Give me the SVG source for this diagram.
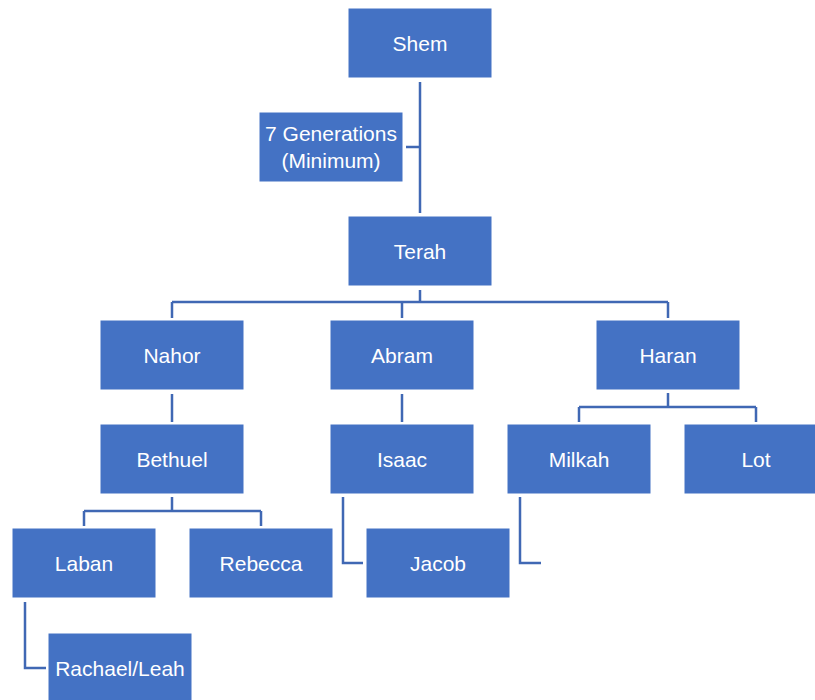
<svg xmlns="http://www.w3.org/2000/svg" width="815" height="700" viewBox="0 0 815 700">
<style>
.box{fill:#4472C4;stroke:#ffffff;stroke-width:1}
.t{font-family:"Liberation Sans",Arial,sans-serif;font-size:21px;fill:#ffffff;text-anchor:middle;dominant-baseline:central}
.c{fill:none;stroke:#4068B4;stroke-width:2.5}
</style>
<rect width="815" height="700" fill="#ffffff"/>
<g id="connectors">
<path class="c" d="M420 82V213M406 147H420"/>
<path class="c" d="M420 290V302M172 302H668M172 302V318M402 302V318M668 302V318"/>
<path class="c" d="M172 394V422M402 394V422"/>
<path class="c" d="M668 393V407M579 407H756M579 407V422M756 407V422"/>
<path class="c" d="M172 497V511M84 511H261M84 511V526M261 511V526"/>
<path class="c" d="M343 497V563H363"/>
<path class="c" d="M520 497V563H541"/>
<path class="c" d="M25 602V668H46"/>
</g>
<g id="shem"><rect class="box" x="348" y="8" width="144" height="70"/><text class="t" x="420" y="43">Shem</text></g>
<g id="generations"><rect class="box" x="259" y="112" width="144" height="70"/><text class="t" x="331" y="133">7 Generations</text><text class="t" x="331" y="160">(Minimum)</text></g>
<g id="terah"><rect class="box" x="348" y="216" width="144" height="70"/><text class="t" x="420" y="251">Terah</text></g>
<g id="nahor"><rect class="box" x="100" y="320" width="144" height="70"/><text class="t" x="172" y="355">Nahor</text></g>
<g id="abram"><rect class="box" x="330" y="320" width="144" height="70"/><text class="t" x="402" y="355">Abram</text></g>
<g id="haran"><rect class="box" x="596" y="320" width="144" height="70"/><text class="t" x="668" y="355">Haran</text></g>
<g id="bethuel"><rect class="box" x="100" y="424" width="144" height="70"/><text class="t" x="172" y="459">Bethuel</text></g>
<g id="isaac"><rect class="box" x="330" y="424" width="144" height="70"/><text class="t" x="402" y="459">Isaac</text></g>
<g id="milkah"><rect class="box" x="507" y="424" width="144" height="70"/><text class="t" x="579" y="459">Milkah</text></g>
<g id="lot"><rect class="box" x="684" y="424" width="144" height="70"/><text class="t" x="756" y="459">Lot</text></g>
<g id="laban"><rect class="box" x="12" y="528" width="144" height="70"/><text class="t" x="84" y="563">Laban</text></g>
<g id="rebecca"><rect class="box" x="189" y="528" width="144" height="70"/><text class="t" x="261" y="563">Rebecca</text></g>
<g id="jacob"><rect class="box" x="366" y="528" width="144" height="70"/><text class="t" x="438" y="563">Jacob</text></g>
<g id="rachael-leah"><rect class="box" x="48" y="633" width="144" height="70"/><text class="t" x="120" y="668">Rachael/Leah</text></g>
</svg>
